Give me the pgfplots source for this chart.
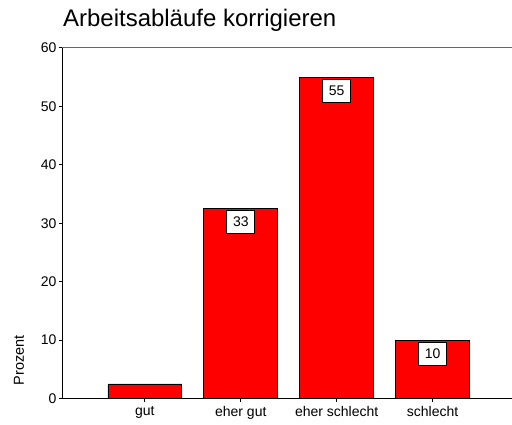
\documentclass[border=0pt]{standalone}
\usepackage{fontspec}
\setmainfont{Liberation Sans}
\usepackage{pgfplots}
\pgfplotsset{compat=1.18}
\definecolor{barred}{HTML}{FF0000}

\begin{document}
\begin{tikzpicture}
\begin{axis}[scale only axis, width=450pt, height=351pt,
  at={(0,0)}, anchor=south west,
  ymin=0, ymax=60, ytick={0,10,...,60},
  xmin=-0.865, xmax=3.823,
  xtick={0,1,2,3}, xticklabels={gut, eher gut, eher schlecht, schlecht},
  axis x line=bottom, axis y line=left, axis line style={-, black, line width=0.8pt},
  tick align=outside, major tick length=3pt, tick style={black, line width=1pt},
  tick label style={font=\fontsize{14}{16}\selectfont, black},
  /pgf/number format/assume math mode=true,
  xticklabel style={yshift=-1pt}, yticklabel style={xshift=1pt},
  clip=false]
\addplot[ybar, bar width=0.77, bar shift=0pt, fill=barred, draw=black, line width=0.8pt]
  coordinates {(0,2.5) (1,32.5) (2,55.0) (3,10.0)};
\addplot[ybar, bar width=0.77, bar shift=0pt, draw=none, fill=none,
  point meta=explicit symbolic, nodes near coords,
  nodes near coords style={anchor=north, yshift=-1.5pt, draw=black, fill=white,
    line width=0.8pt, minimum width=28pt, minimum height=23pt, inner sep=2pt,
    font=\fontsize{14}{16}\selectfont}]
  coordinates {(1,32.5) [33] (2,55.0) [55] (3,10.0) [10]};
\draw[gray!80!black, line width=1pt] (rel axis cs:0,1) -- (rel axis cs:1,1);
\node[rotate=90, anchor=base west, font=\fontsize{14.5}{16}\selectfont]
  at ([xshift=-38pt, yshift=10pt]rel axis cs:0,0) {Prozent};
\node[anchor=base west, font=\fontsize{24}{27}\selectfont, inner sep=0pt]
  at ([xshift=1pt, yshift=21pt]rel axis cs:0,1) {Arbeitsabläufe korrigieren};
\end{axis}
\path[use as bounding box] (-62pt,-26pt) rectangle (450pt,399pt);
\end{tikzpicture}
\end{document}
